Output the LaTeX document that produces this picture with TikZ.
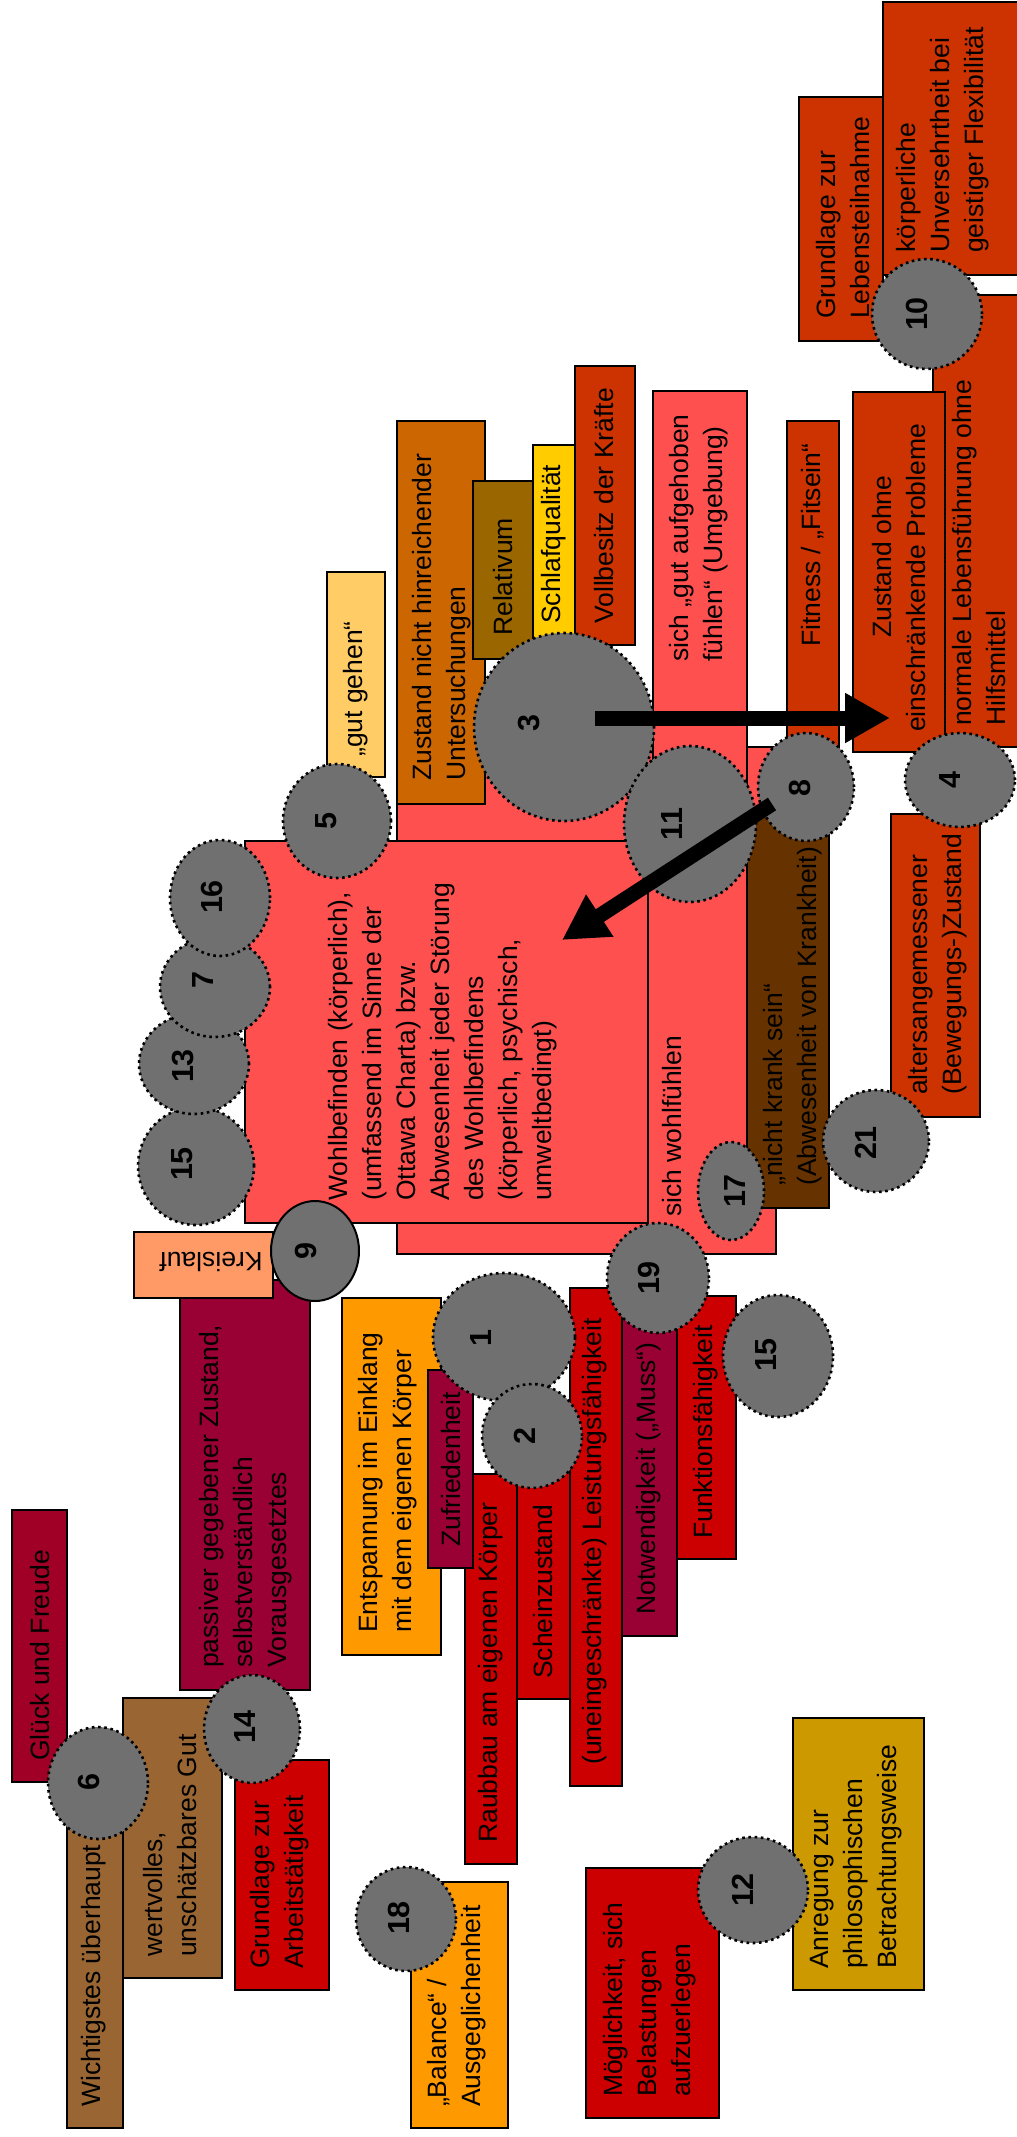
\documentclass[tikz,border=0pt]{standalone}
\usepackage{fontspec}
\setmainfont{Liberation Sans}
\usetikzlibrary{shapes.geometric,arrows.meta}

\definecolor{cPink}{HTML}{FF5050}
\definecolor{cRust}{HTML}{CC3300}
\definecolor{cOchre}{HTML}{CC6600}
\definecolor{cOlive}{HTML}{996600}
\definecolor{cGold}{HTML}{FFCC00}
\definecolor{cSand}{HTML}{FFCC66}
\definecolor{cBrown}{HTML}{663300}
\definecolor{cWine}{HTML}{990033}
\definecolor{cWineB}{HTML}{A00025}
\definecolor{cPeach}{HTML}{FF9966}
\definecolor{cAmber}{HTML}{FF9900}
\definecolor{cRed}{HTML}{CC0000}
\definecolor{cTan}{HTML}{996633}
\definecolor{cMustard}{HTML}{CC9900}
\definecolor{cBadge}{HTML}{707070}

\tikzset{
  card/.style={draw=black, line width=2pt, rectangle, inner sep=0pt, outer sep=0pt},
  txt/.style={rotate=90, anchor=west, align=left, inner sep=0pt,
    font=\fontsize{26.5}{34}\selectfont},
  badge/.style={ellipse, fill=cBadge, draw=black, line width=2.6pt,
    dash pattern=on 2.6pt off 3.6pt, inner sep=0pt},
  plainbadge/.style={ellipse, fill=cBadge, draw=black, line width=2pt, inner sep=0pt},
  num/.style={rotate=90, inner sep=0pt, font=\fontsize{30.5}{36}\selectfont\bfseries},
  bigarrow/.style={line width=15pt, -{Triangle[length=45pt, width=47pt]}},
}

% \card{name}{fill}{x1}{y1}{x2}{y2}: filled box between two corners
\newcommand\card[6]{%
  \pgfmathsetmacro\bxw{#5-(#3)}\pgfmathsetmacro\bxh{#6-(#4)}%
  \pgfmathsetmacro\bxx{(#3+#5)/2}\pgfmathsetmacro\bxy{(#4+#6)/2}%
  \node[card, fill=#2, minimum width=\bxw pt, minimum height=\bxh pt] (#1) at (\bxx,\bxy) {};}

\begin{document}
\begin{tikzpicture}[x=1pt, y=-1pt]
\useasboundingbox (0,0) rectangle (1017,2137);
\fill[white] (0,0) rectangle (1017,2137);
\clip (0,0) rectangle (1017,2137);

% ---- upper cluster ----
\card{bA}{cPink}{397}{747}{776}{1254}
\node[txt] (tA) at (672,1217) {sich wohlfühlen};

\card{bKoerper}{cRust}{883}{2}{1040}{275}
\node[txt] (tKoerper) at (943,253) {körperliche\\Unversehrtheit bei\\geistiger Flexibilität};

\card{bTeilnahme}{cRust}{799}{97}{883}{341}
\node[txt] (tTeilnahme) at (843,319) {Grundlage zur\\Lebensteilnahme};

\card{bNormal}{cRust}{933}{295}{1040}{747}
\node[txt] (tNormal) at (979,726) {normale Lebensführung ohne\\Hilfsmittel};

\card{bOhne}{cRust}{853}{392}{945}{752}
\node[txt] (tOhne) at (899,732) {\hspace*{94pt}Zustand ohne\\einschränkende Probleme};

\card{bFit}{cRust}{787}{421}{839}{780}
\node[txt] (tFit) at (813,647) {Fitness / „Fitsein“};

\card{bAufg}{cPink}{653}{391}{747}{820}
\node[txt] (tAufg) at (699,662) {sich „gut aufgehoben\\fühlen“ (Umgebung)};

\card{bSchlaf}{cGold}{533}{445}{575}{646}
\node[txt] (tSchlaf) at (554,624) {Schlafqualität};

\card{bVoll}{cRust}{575}{366}{635}{645}
\node[txt] (tVoll) at (604,624) {Vollbesitz der Kräfte};

\card{bUnters}{cOchre}{397}{421}{485}{804}
\node[txt] (tUnters) at (442,781) {Zustand nicht hinreichender\\Untersuchungen};

\card{bRel}{cOlive}{473}{481}{533}{659}
\node[txt] (tRel) at (503,636) {Relativum};

\card{bGut}{cSand}{327}{572}{385}{777}
\node[txt] (tGut) at (356,757) {„gut gehen“};

\card{bWohl}{cPink}{245}{841}{648}{1223}
\node[txt] (tWohl) at (443,1201) {Wohlbefinden (körperlich),\\(umfassend im Sinne der\\Ottawa Charta) bzw.\\Abwesenheit jeder Störung\\des Wohlbefindens\\(körperlich, psychisch,\\umweltbedingt)};

\card{bKrank}{cBrown}{747}{815}{829}{1208}
\node[txt] (tKrank) at (793,1186) {„nicht krank sein“\\(Abwesenheit von Krankheit)};

\card{bAlter}{cRust}{891}{814}{980}{1117}
\node[txt] (tAlter) at (938,1095) {altersangemessener\\(Bewegungs-)Zustand};

% ---- middle cluster ----
\card{bPassiv}{cWine}{180}{1280}{310}{1690}
\node[txt] (tPassiv) at (246,1668) {passiver gegebener Zustand,\\selbstverständlich\\Vorausgesetztes};

\card{bKreis}{cPeach}{134}{1232}{273}{1298}
\node[txt, rotate=90, anchor=center] (tKreis) at (211,1262) {Kreislauf};

\card{bEntsp}{cAmber}{342}{1298}{441}{1655}
\node[txt] (tEntsp) at (388,1633) {Entspannung im Einklang\\mit dem eigenen Körper};

\card{bRaub}{cRed}{465}{1474}{517}{1864}
\node[txt] (tRaub) at (491,1843) {Raubbau am eigenen Körper};

\card{bZufr}{cWine}{428}{1370}{473}{1568}
\node[txt] (tZufr) at (451,1547) {Zufriedenheit};

\card{bSchein}{cRed}{517}{1430}{570}{1699}
\node[txt] (tSchein) at (543,1679) {Scheinzustand};

\card{bLeist}{cRed}{570}{1288}{622}{1786}
\node[txt] (tLeist) at (595,1765) {(uneingeschränkte) Leistungsfähigkeit};

\card{bNotw}{cWine}{622}{1300}{677}{1636}
\node[txt] (tNotw) at (649,1615) {Notwendigkeit („Muss“)};

\card{bFunkt}{cRed}{677}{1296}{736}{1559}
\node[txt] (tFunkt) at (706,1539) {Funktionsfähigkeit};

% ---- lower cluster ----
\card{bGlueck}{cWineB}{12}{1510}{67}{1782}
\node[txt] (tGlueck) at (40,1761) {Glück und Freude};

\card{bWicht}{cTan}{67}{1790}{123}{2128}
\node[txt] (tWicht) at (94,2107) {Wichtigstes überhaupt};

\card{bWert}{cTan}{123}{1698}{222}{1978}
\node[txt] (tWert) at (170,1957) {wertvolles,\\unschätzbares Gut};

\card{bArbeit}{cRed}{235}{1760}{329}{1990}
\node[txt] (tArbeit) at (280,1969) {Grundlage zur\\Arbeitstätigkeit};

\card{bBal}{cAmber}{411}{1882}{508}{2128}
\node[txt] (tBal) at (457,2107) {„Balance“ /\\Ausgeglichenheit};

\card{bMoeg}{cRed}{586}{1868}{719}{2118}
\node[txt] (tMoeg) at (650,2097) {Möglichkeit, sich\\Belastungen\\aufzuerlegen};

\card{bAnr}{cMustard}{793}{1718}{924}{1990}
\node[txt] (tAnr) at (856,1969) {Anregung zur\\philosophischen\\Betrachtungsweise};

% ---- numbered badges ----
\node[badge, minimum width=116pt, minimum height=118pt] (c15a) at (196,1166) {};
\node[num] (n15a) at (182,1164) {15};
\node[badge, minimum width=110pt, minimum height=100pt] (c13) at (194,1064) {};
\node[num] (n13) at (183,1066) {13};
\node[badge, minimum width=110pt, minimum height=100pt] (c7) at (215,987) {};
\node[num] (n7) at (203,980) {7};
\node[badge, minimum width=100pt, minimum height=116pt] (c16) at (220,898) {};
\node[num] (n16) at (212,897) {16};
\node[badge, minimum width=108pt, minimum height=114pt] (c5) at (337,821) {};
\node[num] (n5) at (326,821) {5};
\node[badge, minimum width=180pt, minimum height=188pt] (c3) at (564,727) {};
\node[num] (n3) at (529,723) {3};
\node[badge, minimum width=132pt, minimum height=156pt] (c11) at (690,824) {};
\node[num] (n11) at (672,824) {11};
\node[badge, minimum width=96pt, minimum height=108pt] (c8) at (806,787) {};
\node[num] (n8) at (800,788) {8};
\node[badge, minimum width=110pt, minimum height=94pt] (c4) at (960,780) {};
\node[num] (n4) at (950,780) {4};
\node[badge, minimum width=110pt, minimum height=110pt] (c10) at (927,314) {};
\node[num] (n10) at (917,314) {10};
\node[plainbadge, minimum width=88pt, minimum height=100pt] (c9) at (315,1251) {};
\node[num] (n9) at (306,1251) {9};
\node[badge, minimum width=142pt, minimum height=128pt] (c1) at (504,1337) {};
\node[num] (n1) at (481,1338) {1};
\node[badge, minimum width=100pt, minimum height=104pt] (c2) at (532,1436) {};
\node[num] (n2) at (525,1436) {2};
\node[badge, minimum width=102pt, minimum height=110pt] (c19) at (658,1278) {};
\node[num] (n19) at (649,1278) {19};
\node[badge, minimum width=110pt, minimum height=122pt] (c15b) at (778,1356) {};
\node[num] (n15b) at (766,1355) {15};
\node[badge, minimum width=66pt, minimum height=98pt] (c17) at (731,1191) {};
\node[num] (n17) at (735,1191) {17};
\node[badge, minimum width=106pt, minimum height=102pt] (c21) at (876,1141) {};
\node[num] (n21) at (866,1143) {21};
\node[badge, minimum width=100pt, minimum height=112pt] (c6) at (98,1783) {};
\node[num] (n6) at (89,1782) {6};
\node[badge, minimum width=96pt, minimum height=108pt] (c14) at (252,1729) {};
\node[num] (n14) at (245,1727) {14};
\node[badge, minimum width=100pt, minimum height=104pt] (c18) at (406,1919) {};
\node[num] (n18) at (399,1918) {18};
\node[badge, minimum width=110pt, minimum height=106pt] (c12) at (753,1890) {};
\node[num] (n12) at (743,1890) {12};

% ---- block arrows ----
\coordinate (a1s) at (595,718);
\coordinate (a1e) at (890,718);
\draw[bigarrow] (a1s) -- (a1e);
\coordinate (a2s) at (772,804);
\coordinate (a2e) at (562,940);
\draw[bigarrow] (a2s) -- (a2e);
\end{tikzpicture}
\end{document}
